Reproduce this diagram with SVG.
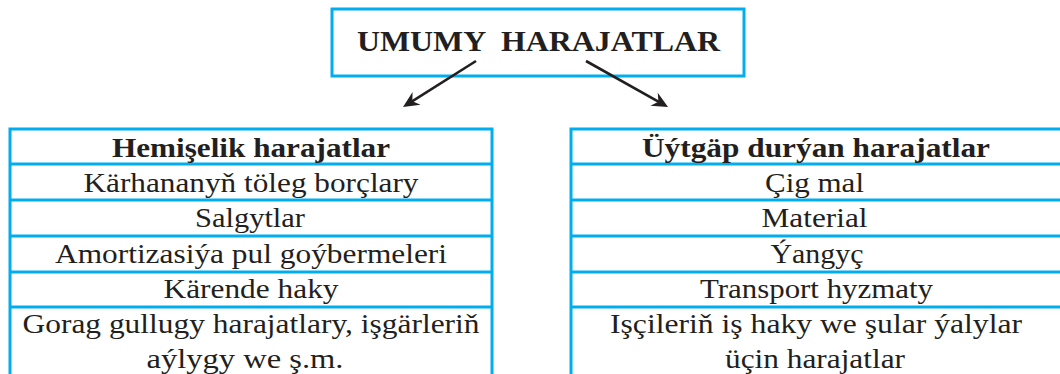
<svg xmlns="http://www.w3.org/2000/svg" width="1060" height="374" viewBox="0 0 1060 374">
<style>
.box{fill:#fff;stroke:#00AEEF;stroke-width:3}
.sep{stroke:#00AEEF;stroke-width:3}
text{font-family:'Liberation Serif','DejaVu Serif',serif;fill:#231F20;text-anchor:middle}
.t{font-size:28px}
.b{font-weight:bold}
.title{font-size:30px;font-weight:bold}
.arr{stroke:#231F20;stroke-width:2.6;fill:none}
</style>
<defs>
<marker id="ah" viewBox="-17 -8 24 16" markerWidth="24" markerHeight="16" refX="-6" refY="0" orient="auto" markerUnits="userSpaceOnUse">
<path d="M0,0 L-16,-7.5 L-11,0 L-16,7.5 Z" fill="#231F20"/>
</marker>
</defs>
<g id="root">
<rect class="box" x="332" y="9" width="412" height="67"/>
<text class="title" x="538.5" y="51" xml:space="preserve" textLength="363" lengthAdjust="spacingAndGlyphs">UMUMY  HARAJATLAR</text>
</g>
<g id="connectors">
<line class="arr" x1="476" y1="61" x2="408.1" y2="103.8" marker-end="url(#ah)"/>
<line class="arr" x1="586" y1="61" x2="662.8" y2="104.1" marker-end="url(#ah)"/>
</g>
<g id="fixed">
<rect class="box" x="10" y="129" width="482" height="260"/>
<line class="sep" x1="10" y1="164" x2="492" y2="164"/>
<line class="sep" x1="10" y1="200" x2="492" y2="200"/>
<line class="sep" x1="10" y1="236" x2="492" y2="236"/>
<line class="sep" x1="10" y1="272" x2="492" y2="272"/>
<line class="sep" x1="10" y1="307" x2="492" y2="307"/>
<text class="t b" x="251" y="157" textLength="278" lengthAdjust="spacingAndGlyphs">Hemişelik harajatlar</text>
<text class="t" x="251" y="192" textLength="335" lengthAdjust="spacingAndGlyphs">Kärhananyň töleg borçlary</text>
<text class="t" x="250" y="227" textLength="110" lengthAdjust="spacingAndGlyphs">Salgytlar</text>
<text class="t" x="251" y="263" textLength="392" lengthAdjust="spacingAndGlyphs">Amortizasiýa pul goýbermeleri</text>
<text class="t" x="251" y="298" textLength="175" lengthAdjust="spacingAndGlyphs">Kärende haky</text>
<text class="t" x="251" y="333" textLength="457" lengthAdjust="spacingAndGlyphs">Gorag gullugy harajatlary, işgärleriň</text>
<text class="t" x="245" y="368" textLength="197" lengthAdjust="spacingAndGlyphs">aýlygy we ş.m.</text>
</g>
<g id="variable">
<rect class="box" x="571" y="129" width="500" height="260"/>
<line class="sep" x1="571" y1="164" x2="1071" y2="164"/>
<line class="sep" x1="571" y1="200" x2="1071" y2="200"/>
<line class="sep" x1="571" y1="236" x2="1071" y2="236"/>
<line class="sep" x1="571" y1="272" x2="1071" y2="272"/>
<line class="sep" x1="571" y1="307" x2="1071" y2="307"/>
<text class="t b" x="816" y="157" textLength="348" lengthAdjust="spacingAndGlyphs">Üýtgäp durýan harajatlar</text>
<text class="t" x="814.5" y="192" textLength="99" lengthAdjust="spacingAndGlyphs">Çig mal</text>
<text class="t" x="814.5" y="227" textLength="106" lengthAdjust="spacingAndGlyphs">Material</text>
<text class="t" x="817" y="263" textLength="93" lengthAdjust="spacingAndGlyphs">Ýangyç</text>
<text class="t" x="816.5" y="298" textLength="233" lengthAdjust="spacingAndGlyphs">Transport hyzmaty</text>
<text class="t" x="816" y="333" textLength="412" lengthAdjust="spacingAndGlyphs">Işçileriň iş haky we şular ýalylar</text>
<text class="t" x="815" y="368" textLength="180" lengthAdjust="spacingAndGlyphs">üçin harajatlar</text>
</g>
</svg>
